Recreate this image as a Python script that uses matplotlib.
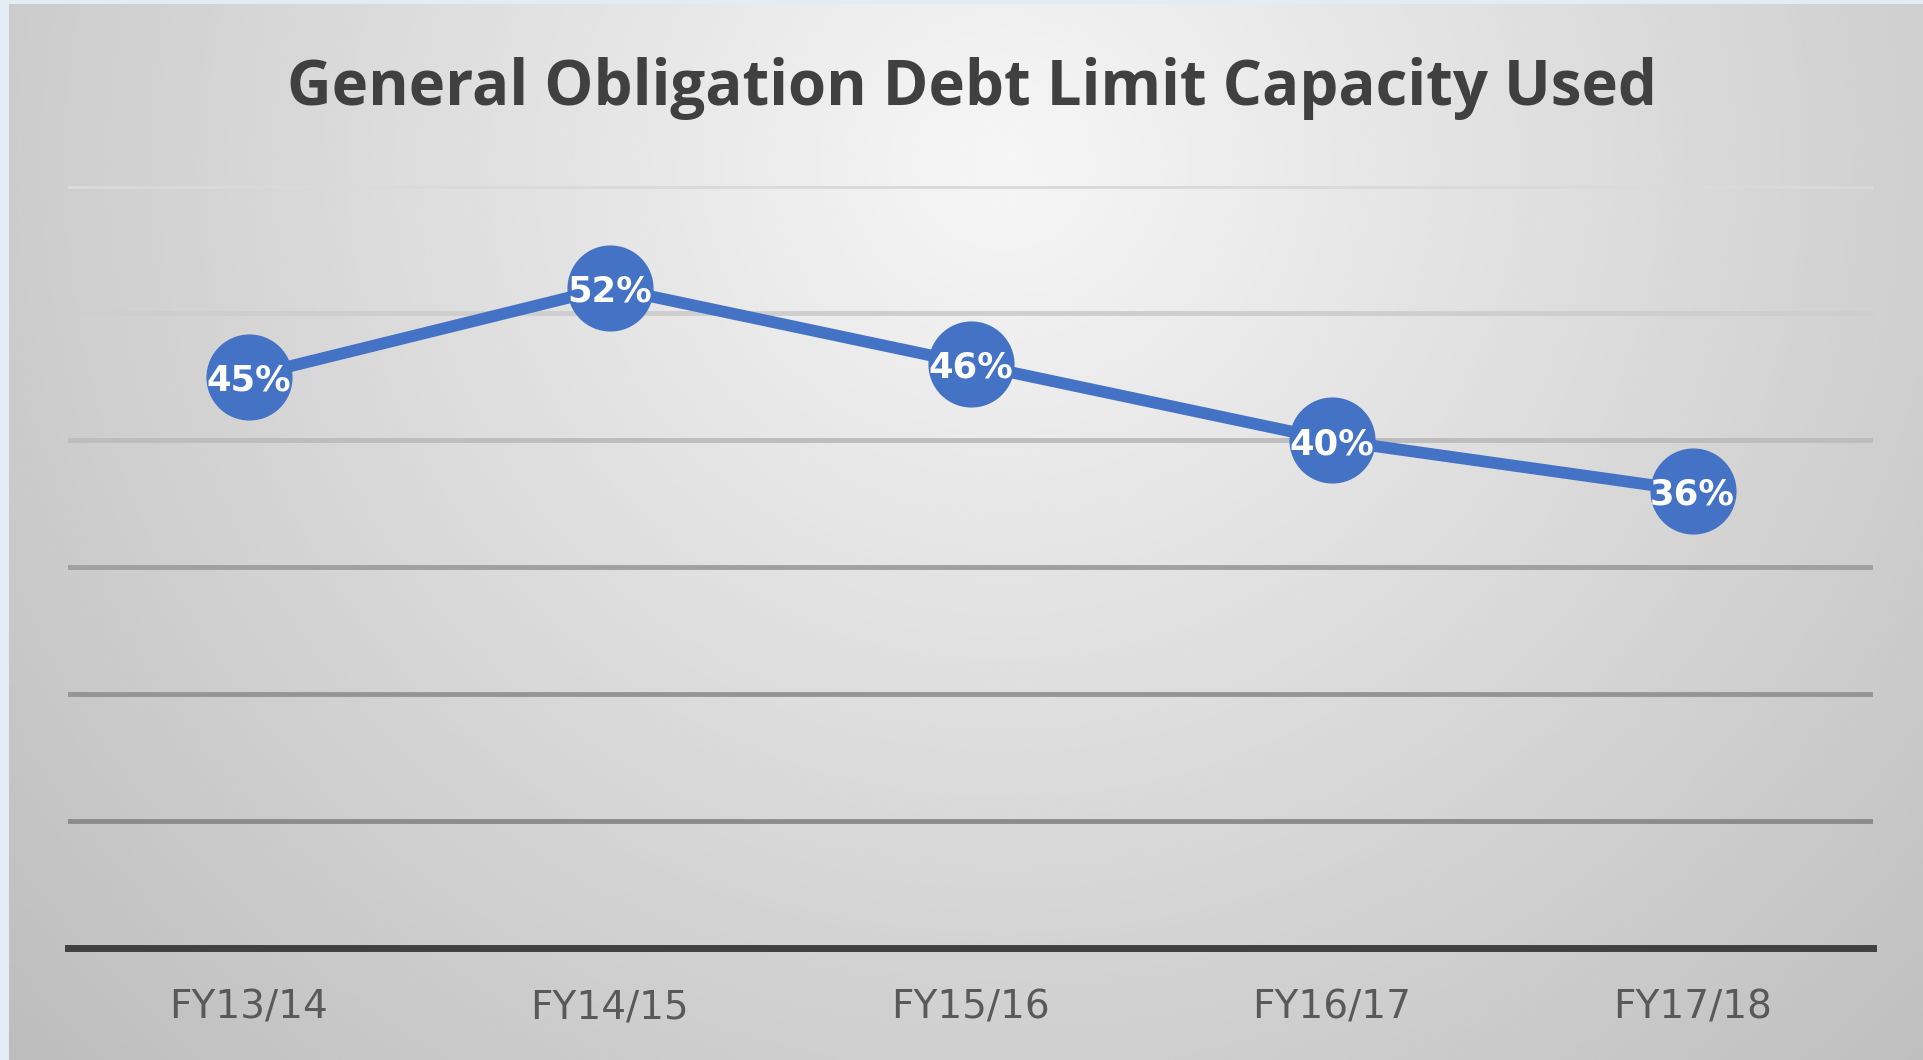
import numpy as np
import matplotlib
matplotlib.use("Agg")
import matplotlib.pyplot as plt

years = ["FY13/14", "FY14/15", "FY15/16", "FY16/17", "FY17/18"]
capacity_used = [45, 52, 46, 40, 36]
grid_ticks = [0, 10, 20, 30, 40, 50, 60]

BLUE = "#4472C4"
W, H, DPI = 1923, 1060, 100

plt.rcParams["font.family"] = ["Open Sans", "DejaVu Sans"]

fig = plt.figure(figsize=(W / DPI, H / DPI), dpi=DPI)
fig.patch.set_facecolor("#e3ebf5")

# radial grey background of the chart area
bg = fig.add_axes([9 / W, 0, 1 - 9 / W, 1 - 4 / H])
bg.set_axis_off()
yy, xx = np.mgrid[0:1:400j, 0:1:700j]
d = np.sqrt(((xx - 0.52) / 0.6) ** 2 + ((yy - 0.15) / 1.05) ** 2)
shade = np.clip(0.965 - 0.19 * d, 0, 1)
bg.imshow(shade, cmap="gray", vmin=0, vmax=1, aspect="auto",
          extent=[0, 1, 1, 0], interpolation="bicubic")

ax = fig.add_axes([68 / W, 1 - 948 / H, (1873 - 68) / W, (948 - 186) / H])
ax.patch.set_alpha(0)
ax.set_xlim(-0.5, len(years) - 0.5)
ax.set_ylim(0, 60)

grid_colors = ["#404040", "#8c8c8c", "#959595", "#a0a0a0", "#bdbdbd", "#cecece", "#dadada"]
for t, c in zip(grid_ticks[1:], grid_colors[1:]):
    ax.axhline(t, color=c, lw=3.5, zorder=1)

for s in ["top", "left", "right"]:
    ax.spines[s].set_visible(False)
ax.spines["bottom"].set_color("#404040")
ax.spines["bottom"].set_linewidth(5)
ax.spines["bottom"].set_zorder(2)
ax.set_yticks([])
x = np.arange(len(years))
ax.set_xticks(x)
ax.set_xticklabels(years, fontsize=28, color="#595959", family="DejaVu Sans")
ax.tick_params(axis="x", length=0, pad=29)

ax.plot(x, capacity_used, color=BLUE, lw=8.5, marker="o", markersize=61,
        markerfacecolor=BLUE, markeredgecolor=BLUE, zorder=3, clip_on=False)
for xi, v in zip(x, capacity_used):
    ax.annotate(f"{v}%", (xi, v), xytext=(0, -3), textcoords="offset points",
                ha="center", va="center", fontsize=25.5, fontweight="bold",
                color="white", family="DejaVu Sans", zorder=4)

fig.text(972 / W, 1 - 88 / H, "General Obligation Debt Limit Capacity Used",
         ha="center", va="center", fontsize=44.5, fontweight="bold", color="#404040")

fig.savefig("out.png", dpi=DPI, facecolor=fig.get_facecolor())
